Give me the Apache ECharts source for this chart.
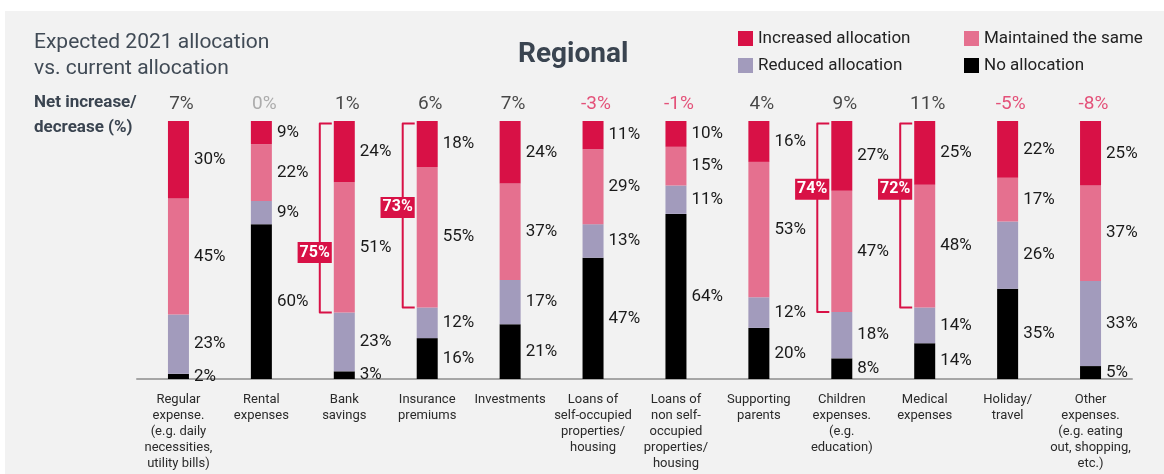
<!DOCTYPE html>
<html>
<head>
<meta charset="utf-8">
<title>Regional</title>
<script src="https://cdn.jsdelivr.net/npm/echarts@6/dist/echarts.min.js"></script>
<style>
  html, body { margin: 0; padding: 0; background: #fff; }
  #main { position: absolute; left: 5px; top: 11px; width: 1159px; height: 463px; background: #f2f2f2; }
</style>
</head>
<body>
<div id="main"></div>
<script>
// categories (x axis)
var categories = [
    'Regular\nexpense.\n(e.g. daily\nnecessities,\nutility bills)',
    'Rental\nexpenses',
    'Bank\nsavings',
    'Insurance\npremiums',
    'Investments',
    'Loans of\nself-occupied\nproperties/\nhousing',
    'Loans of\nnon self-\noccupied\nproperties/\nhousing',
    'Supporting\nparents',
    'Children\nexpenses.\n(e.g.\neducation)',
    'Medical\nexpenses',
    'Holiday/\ntravel',
    'Other\nexpenses.\n(e.g. eating\nout, shopping,\netc.)'
];
// share of respondents (%)
var increased  = [30, 9, 24, 18, 24, 11, 10, 16, 27, 25, 22, 25];
var maintained = [45, 22, 51, 55, 37, 29, 15, 53, 47, 48, 17, 37];
var reduced    = [23, 9, 23, 12, 17, 13, 11, 12, 18, 14, 26, 33];
var noAlloc    = [2, 60, 3, 16, 21, 47, 64, 20, 8, 14, 35, 5];
// net increase/decrease (%)
var netChange  = [7, 0, 1, 6, 7, -3, -1, 4, 9, 11, -5, -8];
// brackets: increased + maintained
var bracketCats = [2, 3, 8, 9];
var bracketPct  = [75, 73, 74, 72];

var RED = '#d81146', PINK = '#e5708f', LILAC = '#a29bbc', BLACK = '#000000';
var FONT = 'Roboto, "Noto Sans", sans-serif';

var myChart = echarts.init(document.getElementById('main'));

// bars are drawn normalised so every column fills 100%
var totals = categories.map(function (c, i) {
    return increased[i] + maintained[i] + reduced[i] + noAlloc[i];
});
function norm(arr) {
    return arr.map(function (v, i) { return { value: v / totals[i] * 100, raw: v }; });
}
// where the bracket label sits (in % of column height)
var bracketLabelAt = [49, 66.5, 73.5, 73.5];
var bracketData = bracketCats.map(function (c, k) {
    var bottom = (noAlloc[c] + reduced[c]) / totals[c] * 100;
    return [c, 99, bottom, bracketLabelAt[k], bracketPct[k]];
});

function barSeries(name, arr, color) {
    return {
        name: name,
        type: 'bar',
        stack: 'all',
        barWidth: 21,
        data: norm(arr),
        itemStyle: { color: color },
        label: {
            show: true,
            position: 'right',
            distance: 5,
            fontFamily: FONT,
            fontSize: 17,
            color: '#1a1a1a',
            formatter: function (p) { return p.data.raw + '%'; }
        },
        emphasis: { disabled: true }
    };
}

var option = {
    animation: false,
    textStyle: { fontFamily: FONT },
    title: [
        {
            text: 'Expected 2021 allocation\nvs. current allocation',
            left: 24, top: 14,
            textStyle: { fontFamily: FONT, fontSize: 21, fontWeight: 'normal', color: '#414b56', lineHeight: 26 }
        },
        {
            text: 'Net increase/\ndecrease (%)',
            left: 24, top: 74,
            textStyle: { fontFamily: FONT, fontSize: 17, fontWeight: 'bold', color: '#3a4450', lineHeight: 25 }
        },
        {
            text: 'Regional',
            left: 508, top: 25,
            textStyle: { fontFamily: FONT, fontSize: 28, fontWeight: 'bold', color: '#3a4450' }
        }
    ],
    legend: [
        {
            data: ['Increased allocation', 'Reduced allocation'],
            orient: 'vertical',
            left: 728, top: 14,
            itemWidth: 15, itemHeight: 15, itemGap: 10,
            icon: 'rect',
            selectedMode: false,
            textStyle: { fontFamily: FONT, fontSize: 17, color: '#222' }
        },
        {
            data: ['Maintained the same', 'No allocation'],
            orient: 'vertical',
            left: 954, top: 14,
            itemWidth: 15, itemHeight: 15, itemGap: 10,
            icon: 'rect',
            selectedMode: false,
            textStyle: { fontFamily: FONT, fontSize: 17, color: '#222' }
        }
    ],
    grid: { left: 132, right: 32, top: 110, bottom: 95 },
    xAxis: {
        type: 'category',
        data: categories,
        axisLine: { lineStyle: { color: '#a6a6a6', width: 2 } },
        axisTick: { show: false },
        axisLabel: {
            interval: 0,
            margin: 13,
            fontFamily: FONT,
            fontSize: 13,
            lineHeight: 16,
            color: '#2a2a2a'
        }
    },
    yAxis: {
        type: 'value',
        min: 0, max: 100,
        show: false,
        splitLine: { show: false }
    },
    series: [
        barSeries('No allocation', noAlloc, BLACK),
        barSeries('Reduced allocation', reduced, LILAC),
        barSeries('Maintained the same', maintained, PINK),
        barSeries('Increased allocation', increased, RED),
        {
            // net increase/decrease row on top of the columns
            type: 'scatter',
            symbolSize: 0,
            silent: true,
            data: netChange.map(function (v, i) {
                return {
                    value: [i, 100],
                    label: { color: v > 0 ? '#1a1a1a' : (v < 0 ? '#e0285a' : '#9a9a9a') }
                };
            }),
            label: {
                show: true,
                position: 'top',
                distance: 7,
                offset: [3, 0],
                fontFamily: FONT,
                fontSize: 19,
                formatter: function (p) { return netChange[p.dataIndex] + '%'; }
            }
        },
        {
            type: 'custom',
            silent: true,
            data: bracketData,
            renderItem: function (params, api) {
                var idx = api.value(0);
                var pTop = api.coord([idx, api.value(1)]);
                var pBot = api.coord([idx, api.value(2)]);
                var pLab = api.coord([idx, api.value(3)]);
                var barLeft = pTop[0] - 10.5;
                var xv = barLeft - 14;
                var xe = barLeft - 2;
                return {
                    type: 'group',
                    children: [
                        {
                            type: 'polyline',
                            shape: { points: [[xe, pTop[1]], [xv, pTop[1]], [xv, pBot[1]], [xe, pBot[1]]] },
                            style: { stroke: RED, lineWidth: 2, fill: null, lineJoin: 'round' }
                        },
                        {
                            type: 'text',
                            x: barLeft - 2,
                            y: pLab[1],
                            style: {
                                text: api.value(4) + '%',
                                fill: '#fff',
                                font: 'bold 16px ' + FONT,
                                align: 'right',
                                verticalAlign: 'middle',
                                backgroundColor: RED,
                                padding: [3, 2, 2, 2]
                            }
                        }
                    ]
                };
            }
        }
    ]
};

myChart.setOption(option);
window.addEventListener('resize', function () { myChart.resize(); });
</script>
</body>
</html>
